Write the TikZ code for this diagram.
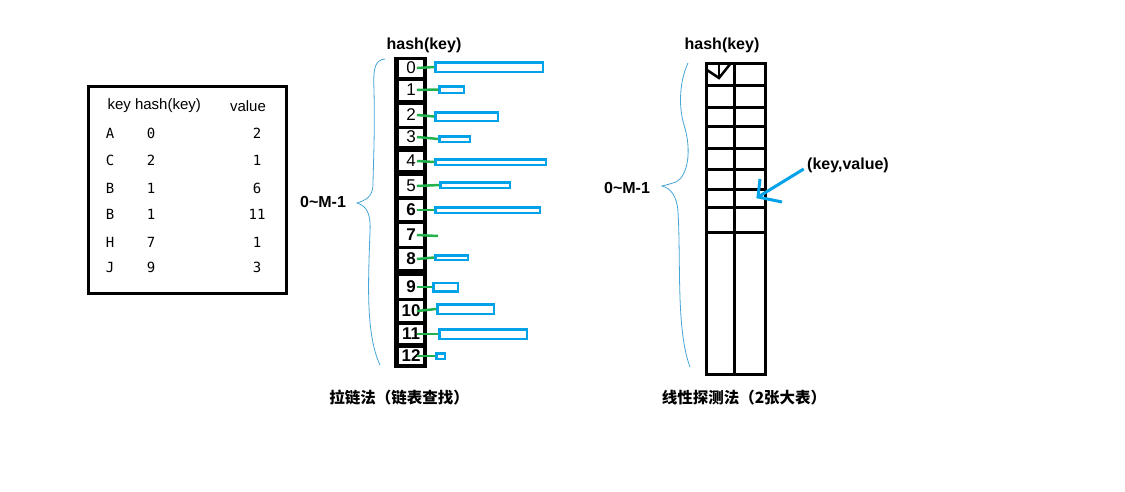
\documentclass[tikz,border=0pt]{standalone}
\usepackage{fontspec}
\setmainfont{Liberation Sans}
\setmonofont{DejaVu Sans Mono}
\newfontfamily\cjk{Noto Sans CJK SC}
\definecolor{paintblue}{RGB}{0,162,232}
\definecolor{paintgreen}{RGB}{34,177,76}
\definecolor{bracecol}{RGB}{70,165,215}
\begin{document}
\begin{tikzpicture}[
  x=1pt, y=-1pt,
  label/.style={font=\fontsize{16}{19}\selectfont\bfseries},
  head/.style={font=\fontsize{15}{18}\selectfont},
  row/.style={font=\ttfamily\fontsize{14}{16}\selectfont},
  cell/.style={fill=white, inner sep=0pt, minimum width=24pt,
               font=\fontsize{17}{19}\selectfont},
  chainbox/.style={draw=paintblue, line width=2.5pt, inner sep=0pt, anchor=west},
  link/.style={draw=paintgreen, line width=2.5pt},
  pen/.style={line width=3pt},
  brace/.style={draw=bracecol, line width=0.8pt},
  caption/.style={font=\cjk\fontsize{15.5}{18}\selectfont\bfseries},
]
\useasboundingbox[fill=white] (0,0) rectangle (1125,491);

% ── key / hash(key) / value table ─────────────────────────────────────────────
\node[draw, pen, anchor=north west, inner sep=0pt,
      minimum width=198pt, minimum height=207pt] (keys) at (86.5,84.5) {};
\node[head, anchor=west] (hkey) at (104,106) {key hash(key)};
\node[head] (hval) at (248,106) {value};
\foreach \n/\y/\k/\h/\v in {1/133/A/0/2, 2/160/C/2/1, 3/188/B/1/6,
                            4/214/B/1/11, 5/242/H/7/1, 6/267/J/9/3} {
  \node[row] (k\n) at (110,\y) {\k};
  \node[row] (hh\n) at (151,\y) {\h};
  \node[row] (v\n) at (257,\y) {\v};
}

% ── separate chaining: bucket column ──────────────────────────────────────────
\node[label] (h1) at (424,45) {hash(key)};
\fill (394,57) rectangle (427,368);
\foreach \i/\yc/\h in {0/68/17, 1/90/19, 2/115/21, 3/137/17, 4/161/18,
                       5/186/20, 6/210/20, 7/235/22, 8/259/20, 9/287/22,
                       10/311/20, 11/334/18, 12/356/16} {
  \node[cell, minimum height=\h pt] (c\i) at (411,\yc)
    {\ifnum\i>5 \bfseries\fi\i};
}

% ── chain lists ───────────────────────────────────────────────────────────────
\foreach \i/\bx/\by/\bw/\bh in {0/433/67/110/12, 1/437/89.5/27/9,
                                2/433/116.5/65/11, 3/437/139/33/8,
                                4/433/162/113/8, 5/438/185/72/8,
                                6/433/210/107/8, 8/433/257.5/35/7,
                                9/431/287/27/11, 10/435/309/59/12,
                                11/437/334/90/12, 12/434/356/11/8} {
  \node[chainbox, minimum width={\bw pt-2.5pt}, minimum height={\bh pt-2.5pt}]
    (b\i) at (\bx+1.25,\by) {};
}
\coordinate (b7) at (438,236);
\foreach \i in {0,...,12} {
  \draw[link] ([xshift=6pt]c\i.center) -- (b\i.west);
}

% ── brace and range ───────────────────────────────────────────────────────────
\node[label] (m1) at (323,202) {0\textasciitilde M-1};
\draw[brace] (385,59) .. controls (375,60) and (373,68) .. (374,90)
  .. controls (375,140) and (373,170) .. (373,186)
  .. controls (372,197) and (366,200) .. (357,203)
  .. controls (366,206) and (371,212) .. (370,232)
  .. controls (368,285) and (366,335) .. (380,365);

% ── linear probing: two big tables ────────────────────────────────────────────
\node[label] (h2) at (722,45) {hash(key)};
\node[draw, pen, anchor=north west, inner sep=0pt,
      minimum width=59pt, minimum height=311pt] (grid) at (705,62) {};
\draw[pen] ([xshift=-1.5pt]grid.north) -- ([xshift=-1.5pt]grid.south);
\foreach \y in {85,107,126,148,169,189,207,232} {
  \draw[pen] (grid.west |- 0,\y) -- (grid.east |- 0,\y);
}
\coordinate (slot) at (719,78);
\draw[line width=2.5pt] (slot |- grid.north) -- (slot);
\draw[line width=2.5pt] (707,70) -- (slot) -- (731,63);

% ── (key,value) pointer ───────────────────────────────────────────────────────
\node[label] (kv) at (848,165) {(key,value)};
\coordinate (kvtip) at (758,197);
\draw[draw=paintblue, line width=3pt] ([yshift=-4pt]kv.west) -- (kvtip);
\draw[draw=paintblue, line width=3pt] (760,179) -- (kvtip) -- (782,202);

\node[label] (m2) at (627,188) {0\textasciitilde M-1};
\draw[brace] (688,63) .. controls (680,80) and (678,105) .. (684,125)
  .. controls (692,150) and (688,176) .. (676,182)
  .. controls (670,184) and (666,185) .. (662,186)
  .. controls (670,188) and (677,195) .. (678,212)
  .. controls (681,260) and (676,330) .. (690,367);

% ── captions ──────────────────────────────────────────────────────────────────
\node[caption] (cap1) at (399,398) {拉链法（链表查找）};
\node[caption] (cap2) at (744,398) {线性探测法（2张大表）};

\end{tikzpicture}
\end{document}
